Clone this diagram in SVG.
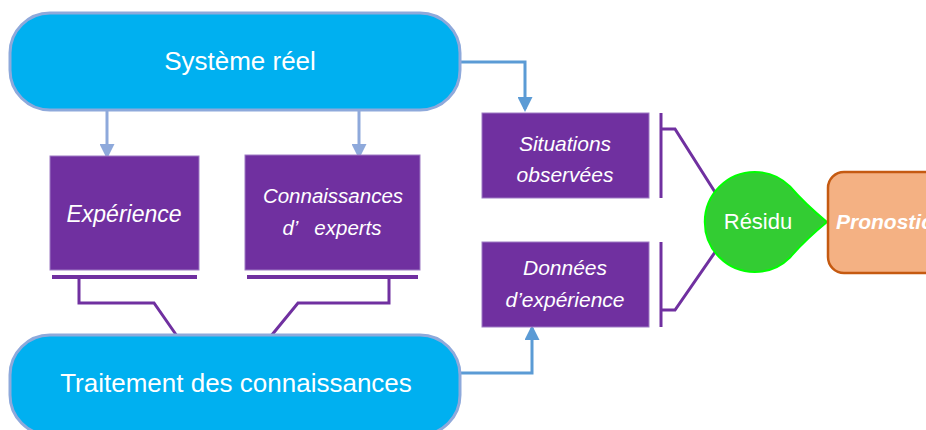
<svg xmlns="http://www.w3.org/2000/svg" width="926" height="430" viewBox="0 0 926 430">
<defs>
<style>
.big{fill:#00B0F0;stroke:#8EA9DB;stroke-width:3}
.box{fill:#7030A0;stroke:#9E7BC4;stroke-width:1}
.t{font-family:"Liberation Sans",Arial,sans-serif;fill:#fff;text-anchor:middle}
.it{font-style:italic}
.pl{fill:none;stroke:#7030A0;stroke-width:3}
.bar{stroke:#7030A0;stroke-width:4}
.gc{fill:none;stroke:#8EA9DB;stroke-width:3}
.bc{fill:none;stroke:#5B9BD5;stroke-width:3}
</style>
<marker id="ag" markerWidth="5" markerHeight="5" refX="4" refY="2.5" orient="auto" markerUnits="strokeWidth" viewBox="0 0 5 5">
<path d="M0,0 L5,2.5 L0,5 Z" fill="#8EA9DB"/>
</marker>
<marker id="ab" markerWidth="5" markerHeight="5" refX="4" refY="2.5" orient="auto" markerUnits="strokeWidth" viewBox="0 0 5 5">
<path d="M0,0 L5,2.5 L0,5 Z" fill="#5B9BD5"/>
</marker>
</defs>
<rect width="926" height="430" fill="#fff"/>

<g id="connectors">
<path class="gc" d="M107,111 V156" marker-end="url(#ag)"/>
<path class="gc" d="M359,111 V156" marker-end="url(#ag)"/>
<path class="bc" d="M461,62 H525 V109" marker-end="url(#ab)"/>
<path class="bc" d="M461,373 H532 V328" marker-end="url(#ab)"/>
<line class="bar" x1="52" y1="277" x2="197" y2="277"/>
<line class="bar" x1="247" y1="277" x2="418" y2="277"/>
<path class="pl" d="M79,277 V303 H154 L177,336"/>
<path class="pl" d="M389,277 V303 H298 L271,336"/>
<path class="pl" d="M661,113 V198"/>
<path class="pl" d="M661,129 H675 L720,200"/>
<path class="pl" d="M661,242 V327"/>
<path class="pl" d="M661,310 H675 L720,245"/>
</g>

<g id="systeme">
<rect class="big" x="10" y="13" width="450" height="97" rx="40"/>
<text class="t" x="240" y="70" font-size="26">Système réel</text>
</g>

<g id="traitement">
<rect class="big" x="10" y="335" width="450" height="100" rx="40"/>
<text class="t" x="236" y="392" font-size="26">Traitement des connaissances</text>
</g>

<g id="experience">
<rect class="box" x="50" y="156" width="149" height="114"/>
<text class="t it" x="124" y="222" font-size="23">Expérience</text>
</g>

<g id="connaissances">
<rect class="box" x="245" y="155" width="175" height="115"/>
<text class="t it" x="333" y="203" font-size="20.5">Connaissances</text>
<text class="t it" x="332" y="235" font-size="20.5" xml:space="preserve" style="white-space:pre">d’   experts</text>
</g>

<g id="situations">
<rect class="box" x="482" y="113" width="167" height="85"/>
<text class="t it" x="565" y="151" font-size="21">Situations</text>
<text class="t it" x="565" y="182" font-size="21">observées</text>
</g>

<g id="donnees">
<rect class="box" x="482" y="242" width="167" height="85"/>
<text class="t it" x="565" y="275" font-size="21">Données</text>
<text class="t it" x="565" y="307" font-size="21">d’expérience</text>
</g>

<g id="residu">
<path d="M790,186.5 Q805,204 827,222 Q805,240 790,257.5 A50,50 0 1 1 790,186.5 Z" fill="#33CC33" stroke="#00FF00" stroke-width="2"/>
<text class="t" x="758" y="229" font-size="22">Résidu</text>
</g>

<g id="pronostic">
<rect x="828" y="172" width="120" height="101" rx="16" fill="#F4B183" stroke="#C55A11" stroke-width="2.5"/>
<text class="t it" x="836" y="229" font-size="21" font-weight="bold" style="text-anchor:start">Pronostic</text>
</g>
</svg>
